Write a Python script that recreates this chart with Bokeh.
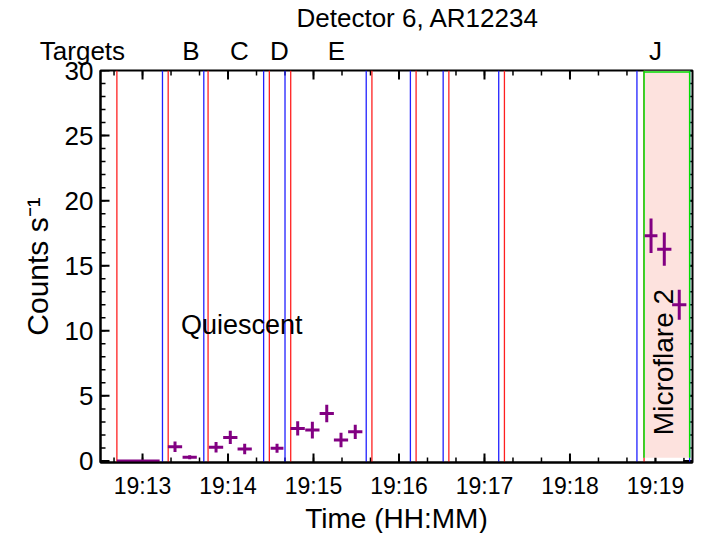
import math
import pandas as pd
from bokeh.plotting import figure
from bokeh.models import (FixedTicker, DatetimeTickFormatter, Label, Range1d, ColumnDataSource,
                          LinearAxis, Title)
from bokeh.embed import file_html
from bokeh.resources import INLINE

DAY = "2014-12-11 "


def ms(s):
    return pd.Timestamp(DAY + s).timestamp() * 1000.0


# ---------------- data ----------------
bin_times = ["19:12:57", "19:13:22.8", "19:13:33.1", "19:13:51.6", "19:14:01.6", "19:14:11.7",
             "19:14:34.4", "19:14:48.9", "19:14:59.2", "19:15:09.3", "19:15:19.3", "19:15:29.3",
             "19:18:56.9", "19:19:06.2", "19:19:16.7"]
counts = [0.0, 1.09, 0.28, 1.05, 1.81, 0.92, 0.97, 2.50, 2.37, 3.65, 1.61, 2.24, 17.3, 16.27, 12.0]
count_errors = [0.0, 0.40, 0.15, 0.40, 0.50, 0.40, 0.35, 0.55, 0.65, 0.67, 0.55, 0.55, 1.33, 1.28, 1.16]
bin_half_widths_s = [15.0, 5.0, 5.0, 5.0, 5.0, 5.0, 4.5, 5.0, 5.0, 5.0, 5.0, 5.0, 4.5, 5.0, 5.0]

red_line_times = ["19:12:42", "19:13:18", "19:13:46", "19:14:29", "19:14:44", "19:15:41",
                  "19:16:12", "19:16:35", "19:17:14", "19:18:52"]
blue_line_times = ["19:13:14", "19:13:43", "19:14:25", "19:14:40", "19:15:37", "19:16:08",
                   "19:16:31", "19:17:10", "19:18:47", "19:19:24"]
microflare_start = "19:18:52"
microflare_end = "19:19:24"

target_names = ["B", "C", "D", "E", "J"]
target_label_times = ["19:13:34", "19:14:08", "19:14:36", "19:15:16", "19:19:00"]

x_major_ticks = ["19:13", "19:14", "19:15", "19:16", "19:17", "19:18", "19:19"]
y_major_ticks = [0, 5, 10, 15, 20, 25, 30]
y_minor_ticks = list(range(0, 31))

# ---------------- layout constants ----------------
FONT = "Liberation Sans"
FRAME_W, FRAME_H = 592, 392
LEFT, RIGHT, TOP, BOTTOM = 100, 13, 70, 71
x0, x1 = ms("19:12:30.5"), ms("19:19:26")
y0, y1 = -0.12, 30
mpp = (x1 - x0) / FRAME_W           # ms per pixel
upp = (y1 - y0) / FRAME_H           # counts per pixel

p = figure(x_axis_type="datetime", output_backend="svg", toolbar_location=None,
           x_range=Range1d(x0, x1), y_range=Range1d(y0, y1),
           frame_width=FRAME_W, frame_height=FRAME_H,
           min_border_left=LEFT, min_border_right=RIGHT, min_border_top=TOP,
           min_border_bottom=BOTTOM,
           background_fill_color="white", border_fill_color="white")
p.xgrid.visible = False
p.ygrid.visible = False
p.outline_line_color = "black"
p.outline_line_width = 2

maj = [ms(t + ":00") for t in x_major_ticks]
minor = []
t = ms("19:12:40")
while t < x1:
    minor.append(t)
    t += 20000.0
fmt = DatetimeTickFormatter(milliseconds="%H:%M", seconds="%H:%M", minsec="%H:%M",
                            minutes="%H:%M", hourmin="%H:%M", hours="%H:%M")


def style(ax):
    ax.axis_line_width = 2
    ax.axis_line_color = "black"
    ax.major_tick_in = 0
    ax.major_tick_out = 0
    ax.minor_tick_in = 0
    ax.minor_tick_out = 0
    ax.major_tick_line_color = None
    ax.minor_tick_line_color = None
    ax.major_label_text_font = FONT
    ax.major_label_text_color = "black"
    ax.axis_label_text_font = FONT
    ax.axis_label_text_font_style = "normal"
    ax.axis_label_text_color = "black"


xa = p.xaxis[0]
xa.ticker = FixedTicker(ticks=maj, minor_ticks=minor)
xa.formatter = fmt
style(xa)
xa.major_label_text_font_size = "23px"
xa.major_label_standoff = 10
xa.axis_label = "Time (HH:MM)"
xa.axis_label_text_font_size = "28px"
xa.axis_label_standoff = 1

ya = p.yaxis[0]
ya.ticker = FixedTicker(ticks=y_major_ticks, minor_ticks=y_minor_ticks)
style(ya)
ya.major_label_text_font_size = "26px"
ya.major_label_standoff = 7
ya.axis_label = "Counts s⁻¹"
ya.axis_label_text_font_size = "30px"
ya.axis_label_standoff = 8

# top axis carrying the target names (the leading "Targets" word sits at the frame's left edge)
tgt_ticks = [x0 + 1.0] + [ms(s) for s in target_label_times]
overrides = {tgt_ticks[0]: "Targets" + "\u00a0" * 5}
for nm, tv in zip(target_names, tgt_ticks[1:]):
    overrides[tv] = nm
top = LinearAxis(ticker=FixedTicker(ticks=tgt_ticks, minor_ticks=[]),
                 major_label_overrides=overrides)
style(top)
top.axis_line_color = None
top.major_label_text_font_size = "26px"
top.major_label_standoff = 5
p.add_layout(top, "above")

p.title.text = "Detector 6, AR12234"
p.title.text_font = FONT
p.title.text_font_size = "26px"
p.title.text_font_style = "normal"
p.title.text_color = "black"
p.title.align = "left"
p.title.offset = 196
p.title.standoff = 0

# inward tick marks on all four sides (drawn from the tick arrays)
MAJ_PX, MIN_PX = 9, 5
tk = dict(line_color="black")
p.segment(x0=maj, x1=maj, y0=[y0] * len(maj), y1=[y0 + MAJ_PX * upp] * len(maj), line_width=2, **tk)
p.segment(x0=maj, x1=maj, y0=[y1] * len(maj), y1=[y1 - MAJ_PX * upp] * len(maj), line_width=2, **tk)
p.segment(x0=minor, x1=minor, y0=[y0] * len(minor), y1=[y0 + MIN_PX * upp] * len(minor), line_width=1.5, **tk)
p.segment(x0=minor, x1=minor, y0=[y1] * len(minor), y1=[y1 - MIN_PX * upp] * len(minor), line_width=1.5, **tk)
p.segment(x0=[x0] * len(y_major_ticks), x1=[x0 + MAJ_PX * mpp] * len(y_major_ticks),
          y0=y_major_ticks, y1=y_major_ticks, line_width=2, **tk)
p.segment(x0=[x1] * len(y_major_ticks), x1=[x1 - MAJ_PX * mpp] * len(y_major_ticks),
          y0=y_major_ticks, y1=y_major_ticks, line_width=2, **tk)
p.segment(x0=[x0] * len(y_minor_ticks), x1=[x0 + MIN_PX * mpp] * len(y_minor_ticks),
          y0=y_minor_ticks, y1=y_minor_ticks, line_width=1.5, **tk)
p.segment(x0=[x1] * len(y_minor_ticks), x1=[x1 - MIN_PX * mpp] * len(y_minor_ticks),
          y0=y_minor_ticks, y1=y_minor_ticks, line_width=1.5, **tk)

# vertical marker lines
red_src = ColumnDataSource(dict(x=[ms(s) for s in red_line_times]))
blue_src = ColumnDataSource(dict(x=[ms(s) for s in blue_line_times]))
p.segment(x0="x", x1="x", y0=y0, y1=y1, source=red_src, line_color="#ff2020", line_width=1.3)
p.segment(x0="x", x1="x", y0=y0, y1=y1, source=blue_src, line_color="#2020ff", line_width=1.3)

# microflare box
ms_s, ms_e = ms(microflare_start), ms(microflare_end)
p.quad(left=[ms_s], right=[ms_e], bottom=[0.25], top=[y1],
       fill_color="#fde2de", line_color=None)
p.segment(x0=[ms_s, ms_e, ms_s], x1=[ms_s, ms_e, ms_e],
          y0=[0.25, 0.25, y1 - 1.5 * upp], y1=[y1, y1, y1 - 1.5 * upp],
          line_color="#00dd00", line_width=1.5)

# data crosses
cx = [ms(s) for s in bin_times]
src = ColumnDataSource(dict(
    x=cx,
    xl=[c - h * 1000.0 for c, h in zip(cx, bin_half_widths_s)],
    xr=[c + h * 1000.0 for c, h in zip(cx, bin_half_widths_s)],
    y=counts,
    yl=[c - e for c, e in zip(counts, count_errors)],
    yh=[c + e for c, e in zip(counts, count_errors)],
))
PURPLE = "#820082"
p.segment(x0="xl", x1="xr", y0="y", y1="y", source=src, line_color=PURPLE, line_width=3)
p.segment(x0="x", x1="x", y0="yl", y1="yh", source=src, line_color=PURPLE, line_width=3)

# in-plot texts
p.add_layout(Label(x=ms("19:13:27"), y=10.45, text="Quiescent", text_font=FONT,
                   text_font_size="27px", text_align="left", text_baseline="middle",
                   text_color="black"))
p.add_layout(Label(x=ms("19:19:05.3"), y=7.6, text="Microflare 2", text_font=FONT,
                   text_font_size="28px", text_align="center", text_baseline="middle",
                   angle=math.pi / 2, text_color="black"))

open("out.html", "w").write(file_html(p, INLINE))
